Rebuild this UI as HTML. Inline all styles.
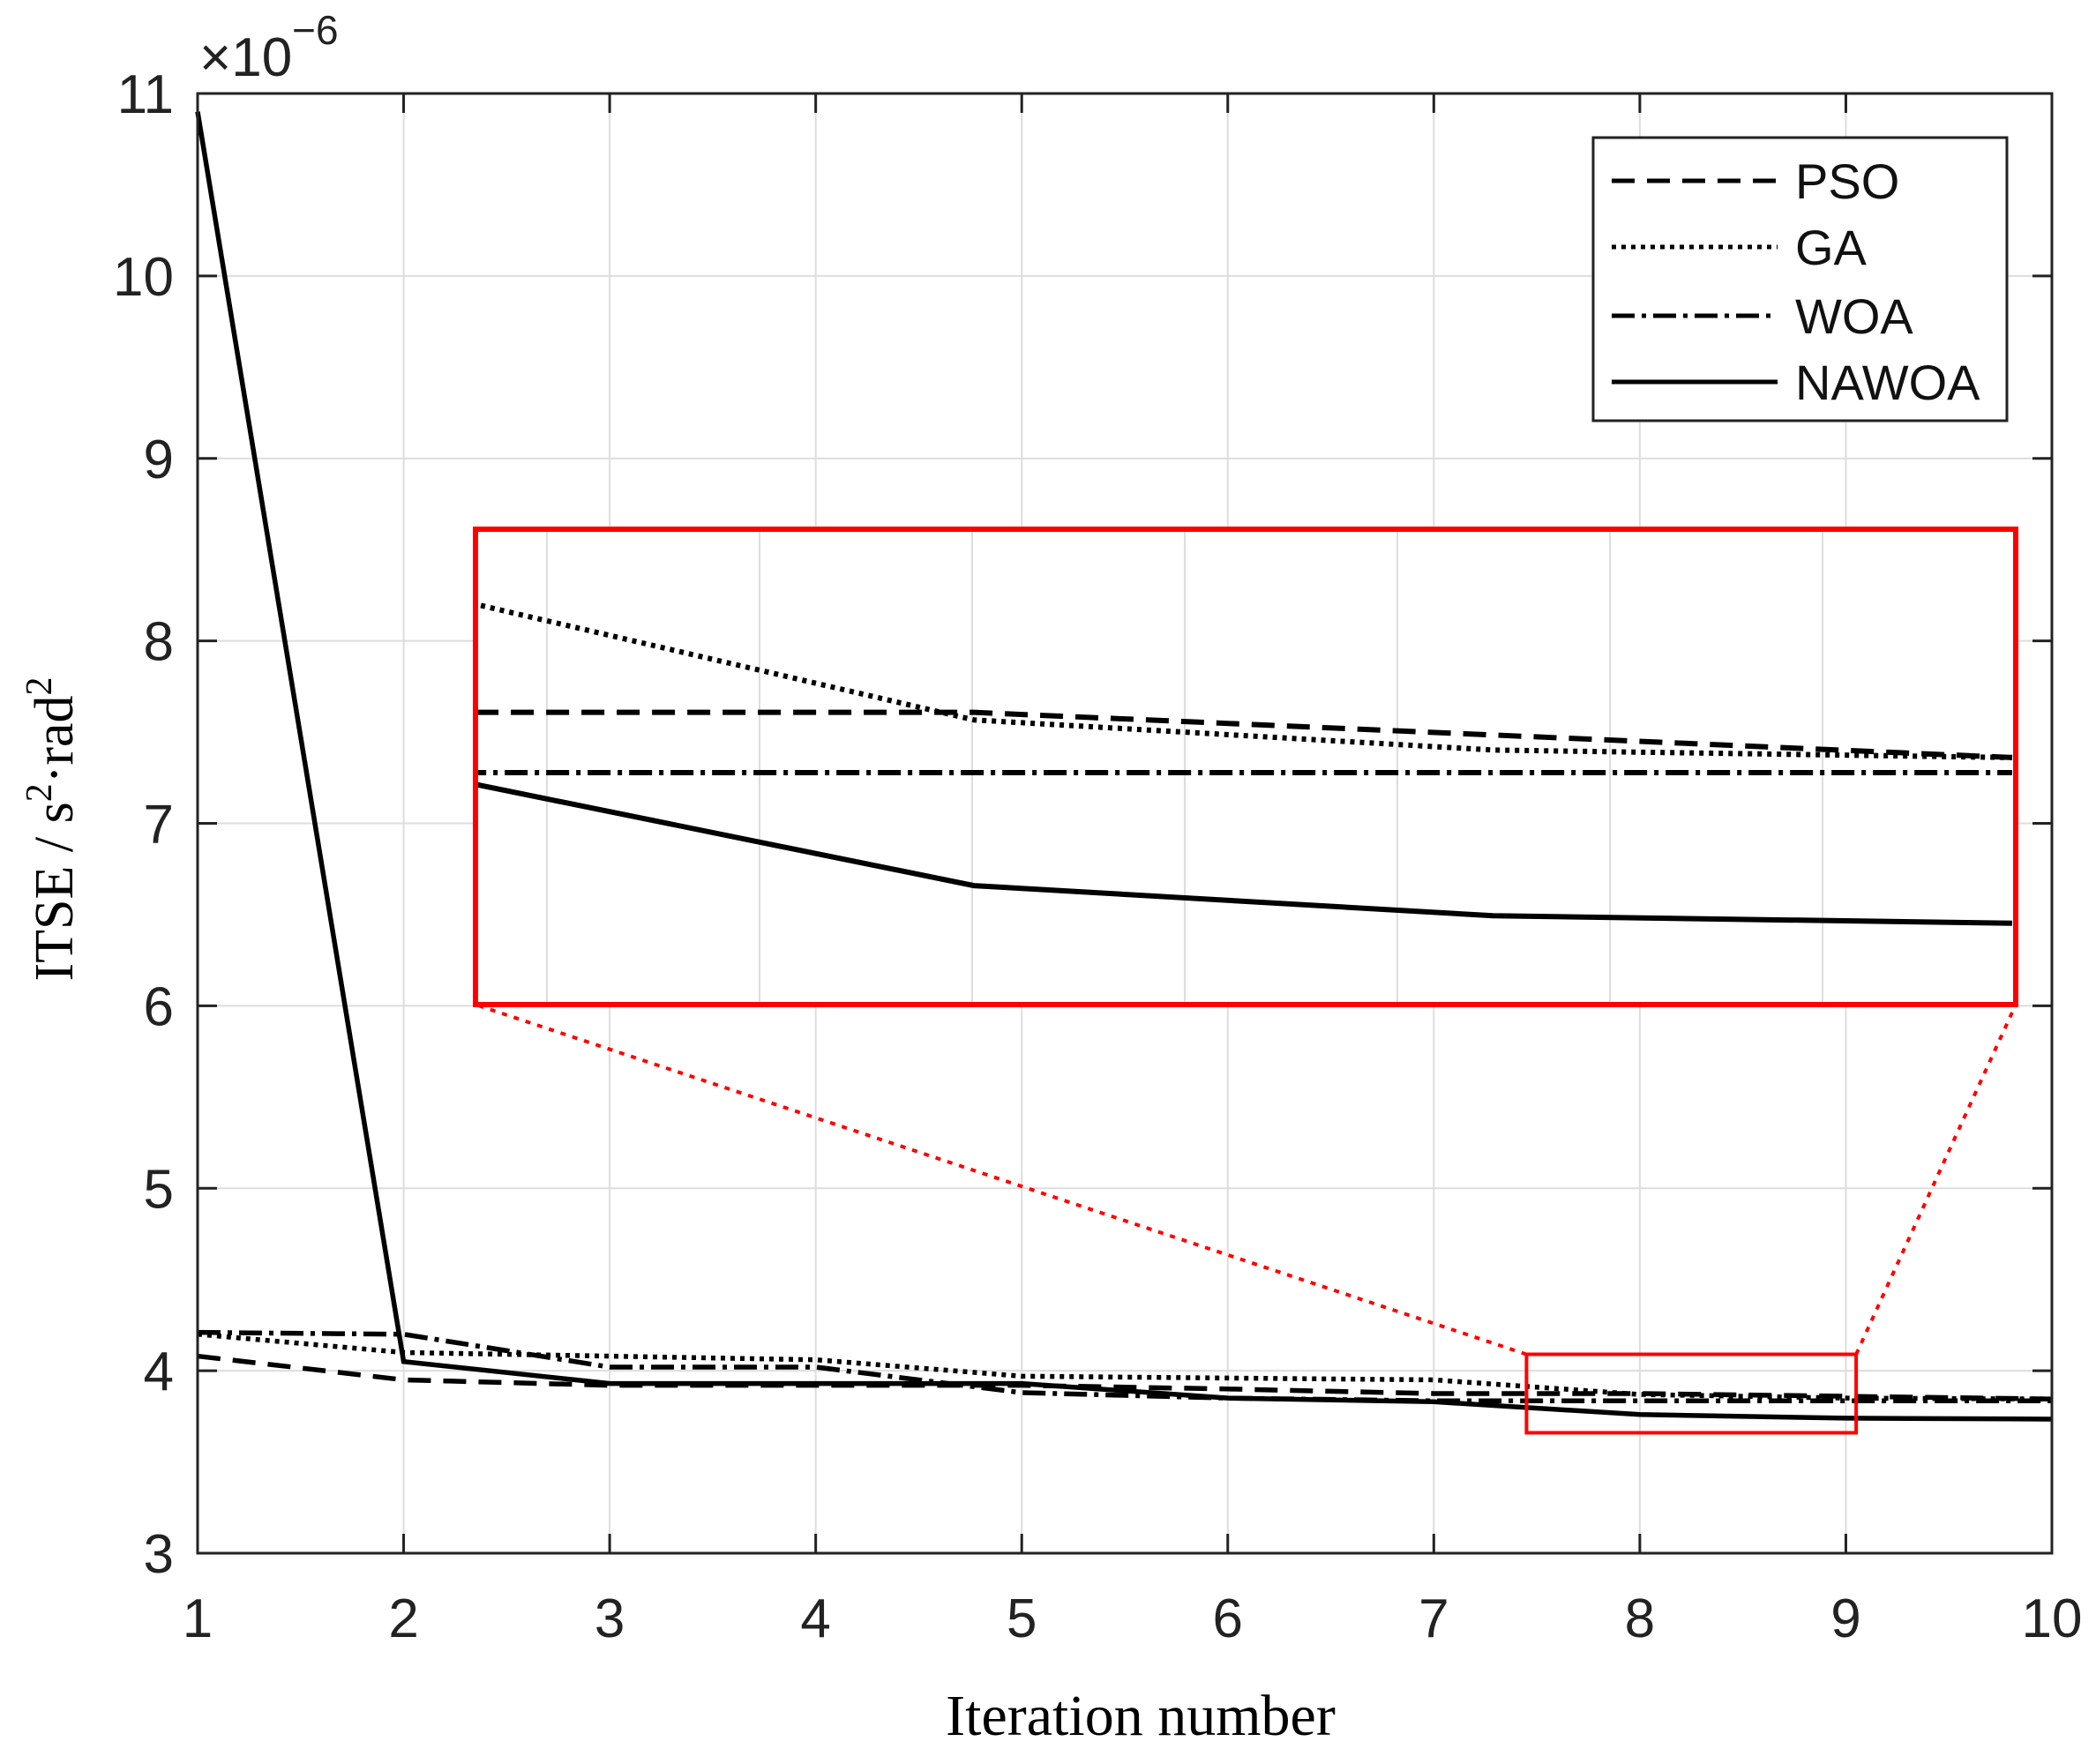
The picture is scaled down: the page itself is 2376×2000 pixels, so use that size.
<!DOCTYPE html>
<html><head><meta charset="utf-8"><style>body{margin:0;background:#fff}svg{display:block}</style></head>
<body>
<svg id="chart" width="2376" height="2000" xmlns="http://www.w3.org/2000/svg" font-family="Liberation Sans, sans-serif">
<rect width="2376" height="2000" fill="#fff"/>
<g id="grid"></g>
<g id="inset"></g>
<g id="series"></g>
<g id="axes"></g>
<text x="226" y="86" font-size="62" fill="#222">×10<tspan dy="-36" font-size="46">−6</tspan></text>
<text x="1293" y="1967" font-size="66" text-anchor="middle" font-family="Liberation Serif, serif">Iteration number</text>
<text transform="translate(82,940) rotate(-90)" font-size="62" text-anchor="middle" font-family="Liberation Serif, serif">ITSE / s<tspan dy="-24" font-size="42">2</tspan><tspan dy="24">·rad</tspan><tspan dy="-24" font-size="42">2</tspan></text>
<g>
<rect x="1806" y="156" width="469" height="321" fill="#fff" stroke="#222" stroke-width="3"/>
</g>
<g id="legend-entries"></g>
</svg>
<script>
const categories=[1,2,3,4,5,6,7,8,9,10];
const psoValues=[4.08,3.95,3.92,3.92,3.92,3.90,3.875,3.875,3.86,3.845];
const gaValues=[4.20,4.10,4.08,4.06,3.97,3.96,3.95,3.87,3.85,3.845];
const woaValues=[4.21,4.20,4.02,4.02,3.88,3.85,3.835,3.835,3.835,3.835];
const nawoaValues=[10.9,4.05,3.93,3.93,3.93,3.85,3.83,3.76,3.74,3.735];
const yTicks=[3,4,5,6,7,8,9,10,11];
const xTicks=[1,2,3,4,5,6,7,8,9,10];
const seriesNames=['PSO','GA','WOA','NAWOA'];
const zoomX=[7.45,9.05];
const zoomY=[3.66,4.09];
const NS='http://www.w3.org/2000/svg';
const L=224,R=2326,T=106,B=1761;
const sx=v=>L+(v-1)/9*(R-L);
const sy=v=>B-(v-3)/8*(B-T);
const IL=539,IR=2285,IT=600,IB=1139;
const ix=v=>IL+(v-7.04)/(10-7.04)*(2281-IL);
const iy=v=>876-(v-3.835)*1708;
function mk(tag,attrs,parent){const e=document.createElementNS(NS,tag);for(const k in attrs)e.setAttribute(k,attrs[k]);parent.appendChild(e);return e;}
const grid=document.getElementById('grid'),axes=document.getElementById('axes'),ser=document.getElementById('series'),ins=document.getElementById('inset');
xTicks.forEach(t=>{
 const g=mk('line',{x1:sx(t),x2:sx(t),y1:T,y2:B,stroke:'#ddd','stroke-width':2},grid);
 
 
 mk('line',{x1:sx(t),x2:sx(t),y1:B,y2:B-22,stroke:'#222','stroke-width':3},axes);
 mk('line',{x1:sx(t),x2:sx(t),y1:T,y2:T+22,stroke:'#222','stroke-width':3},axes);
 const tx=mk('text',{x:sx(t),y:1856,'font-size':62,'text-anchor':'middle',fill:'#222'},axes);tx.textContent=t;
 
 
});
yTicks.forEach(t=>{
 const g=mk('line',{x1:L,x2:R,y1:sy(t),y2:sy(t),stroke:'#ddd','stroke-width':2},grid);
 
 
 mk('line',{x1:L,x2:L+22,y1:sy(t),y2:sy(t),stroke:'#222','stroke-width':3},axes);
 mk('line',{x1:R,x2:R-22,y1:sy(t),y2:sy(t),stroke:'#222','stroke-width':3},axes);
 const tx=mk('text',{x:197,y:sy(t)+22,'font-size':62,'text-anchor':'end',fill:'#222'},axes);tx.textContent=t;
 
 
});
mk('rect',{x:L,y:T,width:R-L,height:B-T,fill:'none',stroke:'#222','stroke-width':3},axes);
const styles=[{d:'26 14'},{d:'5 6'},{d:'26 8 5 8'},{d:'none'}];
const all=[psoValues,gaValues,woaValues,nawoaValues];
all.forEach((vals,i)=>{
 const p=mk('polyline',{points:categories.map((c,j)=>sx(c)+','+sy(vals[j])).join(' '),fill:'none',stroke:'#000','stroke-width':5.5,'stroke-dasharray':styles[i].d},ser);
 
 
});
const zx1=sx(zoomX[0]),zx2=sx(zoomX[1]),zy1=sy(zoomY[1]),zy2=sy(zoomY[0]);
const zb=mk('rect',{x:zx1,y:zy1,width:zx2-zx1,height:zy2-zy1,fill:'none',stroke:'#f00','stroke-width':4},ser);


mk('line',{x1:zx1,y1:zy1,x2:IL,y2:IB,stroke:'#f00','stroke-width':4,'stroke-dasharray':'6 8'},ser);
mk('line',{x1:zx2,y1:zy1,x2:IR,y2:IB,stroke:'#f00','stroke-width':4,'stroke-dasharray':'6 8'},ser);
mk('rect',{x:IL,y:IT,width:IR-IL,height:IB-IT,fill:'#fff'},ins);
for(let k=0;k<7;k++){const gx=620+k*241;mk('line',{x1:gx,x2:gx,y1:IT,y2:IB,stroke:'#ddd','stroke-width':2},ins);}
mk('clipPath',{id:'ic'},ins);
mk('rect',{x:IL,y:IT,width:IR-IL,height:IB-IT},document.getElementById('ic'));
const ig=mk('g',{'clip-path':'url(#ic)'},ins);
all.forEach((vals,i)=>{
 const p=mk('polyline',{points:categories.map((c,j)=>ix(c)+','+iy(vals[j])).join(' '),fill:'none',stroke:'#000','stroke-width':6,'stroke-dasharray':styles[i].d},ig);
 
 
});
mk('rect',{x:IL,y:IT,width:IR-IL,height:IB-IT,fill:'none',stroke:'#f00','stroke-width':6},ins);
const le=document.getElementById('legend-entries');
const ly=[205,280,358,433];
seriesNames.forEach((n,i)=>{
 const g=mk('g',{},le);
 
 
 mk('line',{x1:1827,x2:2015,y1:ly[i],y2:ly[i],stroke:'#000','stroke-width':5,'stroke-dasharray':styles[i].d},g);
 const t=mk('text',{x:2035,y:ly[i]+20,'font-size':56,fill:'#111'},g);t.textContent=n;
});
</script>
</body></html>
